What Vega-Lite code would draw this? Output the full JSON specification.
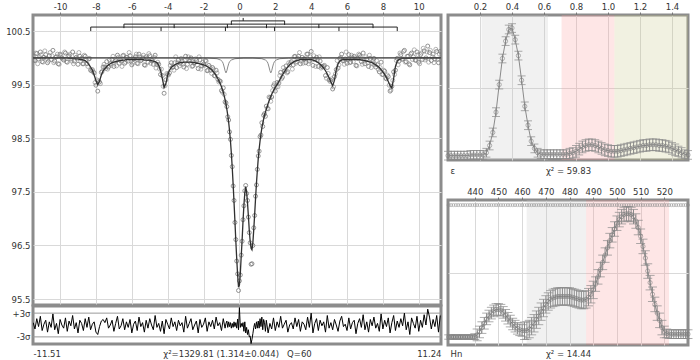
{
"$schema": "https://vega.github.io/schema/vega-lite/v6.json",
"padding": {"left": 4, "top": 0, "right": 0, "bottom": 0},
"background": "white",
"spacing": -1,
"config": {
  "locale": {"number": {"decimal": ".", "thousands": ",", "grouping": [3], "currency": ["$", ""], "minus": "-"}},
  "view": {"stroke": "#8c8c8c", "strokeWidth": 3},
  "axis": {"labelFont": "DejaVu Sans", "labelFontSize": 8.5, "labelColor": "#333", "titleFont": "DejaVu Sans", "titleFontSize": 8.5, "titleFontWeight": "normal", "titleColor": "#333", "gridColor": "#d9d9d9", "gridWidth": 1, "domain": false, "tickColor": "#777", "tickSize": 3}
},
"datasets": {
  "spec": [
{"x":-11.5,"y":100.03,"f":100,"r":0.6},{"x":-11.4,"y":99.95,"f":100,"r":-1},{"x":-11.3,"y":100.08,"f":100,"r":1.6},{"x":-11.2,"y":99.98,"f":100,"r":-0.4},{"x":-11.1,"y":100.11,"f":100,"r":2.2},{"x":-11.0,"y":99.93,"f":100,"r":-1.4},{"x":-10.9,"y":100.01,"f":100,"r":0.2},{"x":-10.8,"y":100.06,"f":100,"r":1.2},{"x":-10.7,"y":99.91,"f":100,"r":-1.8},{"x":-10.6,"y":100.04,"f":100,"r":0.8},
{"x":-10.5,"y":99.97,"f":100,"r":-0.6},{"x":-10.4,"y":100.14,"f":100,"r":2.8},{"x":-10.3,"y":99.94,"f":100,"r":-1.2},{"x":-10.2,"y":100.02,"f":100,"r":0.4},{"x":-10.1,"y":99.89,"f":100,"r":-2.2},{"x":-10.0,"y":100.07,"f":100,"r":1.4},{"x":-9.9,"y":100.0,"f":100,"r":0},{"x":-9.8,"y":99.96,"f":100,"r":-0.8},{"x":-9.7,"y":100.09,"f":100,"r":1.8},{"x":-9.6,"y":99.92,"f":100,"r":-1.6},
{"x":-9.5,"y":100.04,"f":99.99,"r":1},{"x":-9.4,"y":99.98,"f":99.99,"r":-0.2},{"x":-9.3,"y":100.11,"f":99.99,"r":2.4},{"x":-9.2,"y":99.94,"f":99.99,"r":-1},{"x":-9.1,"y":100.01,"f":99.98,"r":0.6},{"x":-9.0,"y":99.88,"f":99.98,"r":-2},{"x":-8.9,"y":100.03,"f":99.97,"r":1.2},{"x":-8.8,"y":99.99,"f":99.97,"r":0.4},{"x":-8.7,"y":99.89,"f":99.96,"r":-1.4},{"x":-8.6,"y":100.03,"f":99.95,"r":1.6},
{"x":-8.5,"y":99.89,"f":99.92,"r":-0.6},{"x":-8.4,"y":99.98,"f":99.88,"r":2},{"x":-8.3,"y":99.77,"f":99.83,"r":-1.2},{"x":-8.2,"y":99.78,"f":99.77,"r":0.2},{"x":-8.1,"y":99.72,"f":99.68,"r":0.8},{"x":-8.0,"y":99.49,"f":99.58,"r":-1.8},{"x":-7.9,"y":99.38,"f":99.5,"r":-2.4},{"x":-7.8,"y":99.55,"f":99.57,"r":-0.4},{"x":-7.7,"y":99.73,"f":99.68,"r":1},{"x":-7.6,"y":99.83,"f":99.76,"r":1.4},
{"x":-7.5,"y":99.83,"f":99.8,"r":0.6},{"x":-7.4,"y":99.93,"f":99.84,"r":1.8},{"x":-7.3,"y":99.83,"f":99.87,"r":-0.8},{"x":-7.2,"y":99.89,"f":99.89,"r":0},{"x":-7.1,"y":99.97,"f":99.91,"r":1.2},{"x":-7.0,"y":99.84,"f":99.92,"r":-1.6},{"x":-6.9,"y":99.95,"f":99.93,"r":0.4},{"x":-6.8,"y":100.05,"f":99.94,"r":2.2},{"x":-6.7,"y":99.9,"f":99.95,"r":-1},{"x":-6.6,"y":99.94,"f":99.95,"r":-0.2},
{"x":-6.5,"y":100.04,"f":99.96,"r":1.6},{"x":-6.4,"y":99.9,"f":99.96,"r":-1.2},{"x":-6.3,"y":100.01,"f":99.97,"r":0.8},{"x":-6.2,"y":99.94,"f":99.97,"r":-0.6},{"x":-6.1,"y":100.04,"f":99.97,"r":1.4},{"x":-6.0,"y":99.87,"f":99.97,"r":-2},{"x":-5.9,"y":99.98,"f":99.97,"r":0.2},{"x":-5.8,"y":100.02,"f":99.97,"r":1},{"x":-5.7,"y":99.9,"f":99.97,"r":-1.4},{"x":-5.6,"y":100.07,"f":99.97,"r":2},
{"x":-5.5,"y":99.95,"f":99.97,"r":-0.4},{"x":-5.4,"y":100.0,"f":99.97,"r":0.6},{"x":-5.3,"y":99.87,"f":99.96,"r":-1.8},{"x":-5.2,"y":100.02,"f":99.96,"r":1.2},{"x":-5.1,"y":99.92,"f":99.96,"r":-0.8},{"x":-5.0,"y":100.04,"f":99.96,"r":1.6},{"x":-4.9,"y":99.95,"f":99.95,"r":0},{"x":-4.8,"y":99.88,"f":99.94,"r":-1.2},{"x":-4.7,"y":100.05,"f":99.93,"r":2.4},{"x":-4.6,"y":99.88,"f":99.91,"r":-0.6},
{"x":-4.5,"y":99.88,"f":99.86,"r":0.4},{"x":-4.4,"y":99.69,"f":99.77,"r":-1.6},{"x":-4.3,"y":99.67,"f":99.62,"r":1},{"x":-4.2,"y":99.34,"f":99.45,"r":-2.2},{"x":-4.1,"y":99.59,"f":99.52,"r":1.4},{"x":-4.0,"y":99.69,"f":99.68,"r":0.2},{"x":-3.9,"y":99.72,"f":99.77,"r":-1},{"x":-3.8,"y":99.91,"f":99.82,"r":1.8},{"x":-3.7,"y":99.83,"f":99.85,"r":-0.4},{"x":-3.6,"y":99.91,"f":99.87,"r":0.8},
{"x":-3.5,"y":99.82,"f":99.89,"r":-1.4},{"x":-3.4,"y":99.96,"f":99.9,"r":1.2},{"x":-3.3,"y":99.9,"f":99.91,"r":-0.2},{"x":-3.2,"y":99.94,"f":99.91,"r":0.6},{"x":-3.1,"y":99.83,"f":99.92,"r":-1.8},{"x":-3.0,"y":100.03,"f":99.92,"r":2.2},{"x":-2.9,"y":99.88,"f":99.92,"r":-0.8},{"x":-2.8,"y":99.94,"f":99.92,"r":0.4},{"x":-2.7,"y":100.0,"f":99.92,"r":1.6},{"x":-2.6,"y":99.85,"f":99.91,"r":-1.2},
{"x":-2.5,"y":99.91,"f":99.91,"r":0},{"x":-2.4,"y":99.95,"f":99.9,"r":1},{"x":-2.3,"y":99.8,"f":99.9,"r":-2},{"x":-2.2,"y":99.96,"f":99.89,"r":1.4},{"x":-2.1,"y":99.85,"f":99.88,"r":-0.6},{"x":-2.0,"y":99.88,"f":99.87,"r":0.2},{"x":-1.9,"y":99.95,"f":99.86,"r":1.8},{"x":-1.8,"y":99.76,"f":99.84,"r":-1.6},{"x":-1.7,"y":99.86,"f":99.82,"r":0.8},{"x":-1.6,"y":99.77,"f":99.79,"r":-0.4},
{"x":-1.5,"y":99.82,"f":99.76,"r":1.2},{"x":-1.4,"y":99.67,"f":99.72,"r":-1},{"x":-1.3,"y":99.77,"f":99.67,"r":2},{"x":-1.2,"y":99.6,"f":99.61,"r":-0.2},{"x":-1.1,"y":99.57,"f":99.54,"r":0.6},{"x":-1.0,"y":99.39,"f":99.46,"r":-1.4},{"x":-0.9,"y":99.44,"f":99.36,"r":1.6},{"x":-0.8,"y":99.18,"f":99.22,"r":-0.8},{"x":-0.75,"y":99.16,"f":99.14,"r":0.4},{"x":-0.7,"y":99.09,"f":99.04,"r":1},
{"x":-0.65,"y":98.9,"f":98.93,"r":-0.6},{"x":-0.6,"y":98.84,"f":98.8,"r":0.8},{"x":-0.55,"y":98.62,"f":98.64,"r":-0.4},{"x":-0.5,"y":98.48,"f":98.45,"r":0.6},{"x":-0.45,"y":98.18,"f":98.22,"r":-0.8},{"x":-0.4,"y":97.97,"f":97.95,"r":0.4},{"x":-0.35,"y":97.61,"f":97.64,"r":-0.6},{"x":-0.3,"y":97.34,"f":97.3,"r":0.8},{"x":-0.25,"y":96.93,"f":96.95,"r":-0.4},{"x":-0.2,"y":96.61,"f":96.58,"r":0.6},
{"x":-0.15,"y":96.21,"f":96.25,"r":-0.8},{"x":-0.1,"y":95.97,"f":95.95,"r":1.5},{"x":-0.05,"y":95.66,"f":95.72,"r":-1.2},{"x":0.0,"y":95.84,"f":95.76,"r":4.4},{"x":0.05,"y":95.95,"f":95.98,"r":-0.6},{"x":0.1,"y":96.32,"f":96.3,"r":0.4},{"x":0.15,"y":96.58,"f":96.6,"r":-0.4},{"x":0.2,"y":96.98,"f":96.95,"r":0.6},{"x":0.25,"y":97.24,"f":97.25,"r":-1.6},{"x":0.3,"y":97.52,"f":97.48,"r":0.8},
{"x":0.35,"y":97.62,"f":97.6,"r":-2},{"x":0.4,"y":97.47,"f":97.5,"r":-0.6},{"x":0.45,"y":97.34,"f":97.3,"r":-2.4},{"x":0.5,"y":97.03,"f":97.05,"r":-1.2},{"x":0.55,"y":96.74,"f":96.78,"r":-3},{"x":0.6,"y":96.55,"f":96.58,"r":-2.8},{"x":0.65,"y":96.15,"f":96.45,"r":-4.7},{"x":0.7,"y":96.16,"f":96.42,"r":-3.6},{"x":0.75,"y":96.5,"f":96.55,"r":-2.2},{"x":0.8,"y":96.83,"f":96.8,"r":-0.6},
{"x":0.85,"y":97.06,"f":97.08,"r":0.4},{"x":0.9,"y":97.42,"f":97.38,"r":-1},{"x":0.95,"y":97.63,"f":97.66,"r":0.8},{"x":1.0,"y":97.92,"f":97.9,"r":-0.8},{"x":1.05,"y":98.17,"f":98.12,"r":1},{"x":1.1,"y":98.26,"f":98.3,"r":-0.8},{"x":1.15,"y":98.53,"f":98.45,"r":1.6},{"x":1.2,"y":98.56,"f":98.58,"r":-0.4},{"x":1.25,"y":98.79,"f":98.69,"r":2},{"x":1.3,"y":98.72,"f":98.78,"r":-1.2},
{"x":1.35,"y":98.93,"f":98.86,"r":1.4},{"x":1.4,"y":98.96,"f":98.93,"r":0.6},{"x":1.45,"y":98.91,"f":98.99,"r":-1.6},{"x":1.5,"y":99.1,"f":99.04,"r":1.2},{"x":1.6,"y":99.05,"f":99.15,"r":-2},{"x":1.7,"y":99.26,"f":99.24,"r":0.4},{"x":1.8,"y":99.27,"f":99.32,"r":-1},{"x":1.9,"y":99.48,"f":99.39,"r":1.8},{"x":2.0,"y":99.38,"f":99.45,"r":-1.4},{"x":2.1,"y":99.54,"f":99.5,"r":0.8},
{"x":2.2,"y":99.53,"f":99.56,"r":-0.6},{"x":2.3,"y":99.73,"f":99.62,"r":2.2},{"x":2.4,"y":99.64,"f":99.68,"r":-0.8},{"x":2.5,"y":99.75,"f":99.74,"r":0.2},{"x":2.6,"y":99.85,"f":99.79,"r":1.2},{"x":2.7,"y":99.74,"f":99.83,"r":-1.8},{"x":2.8,"y":99.87,"f":99.87,"r":0},{"x":2.9,"y":99.93,"f":99.9,"r":0.6},{"x":3.0,"y":99.87,"f":99.92,"r":-1},{"x":3.1,"y":100.03,"f":99.94,"r":1.8},
{"x":3.2,"y":99.93,"f":99.95,"r":-0.4},{"x":3.3,"y":100.03,"f":99.96,"r":1.4},{"x":3.4,"y":99.89,"f":99.97,"r":-1.6},{"x":3.5,"y":100.01,"f":99.97,"r":0.8},{"x":3.6,"y":99.98,"f":99.97,"r":0.2},{"x":3.7,"y":99.91,"f":99.97,"r":-1.2},{"x":3.8,"y":100.07,"f":99.97,"r":2},{"x":3.9,"y":99.94,"f":99.97,"r":-0.6},{"x":4.0,"y":100.12,"f":99.97,"r":3},{"x":4.1,"y":99.86,"f":99.96,"r":-2},
{"x":4.2,"y":99.97,"f":99.95,"r":0.4},{"x":4.3,"y":100.01,"f":99.93,"r":1.6},{"x":4.4,"y":99.84,"f":99.91,"r":-1.4},{"x":4.5,"y":99.94,"f":99.88,"r":1.2},{"x":4.6,"y":99.84,"f":99.85,"r":-0.2},{"x":4.7,"y":99.85,"f":99.81,"r":0.8},{"x":4.8,"y":99.67,"f":99.76,"r":-1.8},{"x":4.9,"y":99.82,"f":99.7,"r":2.4},{"x":5.0,"y":99.59,"f":99.63,"r":-0.8},{"x":5.1,"y":99.58,"f":99.55,"r":0.6},
{"x":5.2,"y":99.42,"f":99.48,"r":-1.2},{"x":5.3,"y":99.65,"f":99.58,"r":1.4},{"x":5.4,"y":99.78,"f":99.78,"r":0},{"x":5.5,"y":99.81,"f":99.89,"r":-1.6},{"x":5.6,"y":99.99,"f":99.94,"r":1},{"x":5.7,"y":100.07,"f":99.96,"r":2.2},{"x":5.8,"y":99.95,"f":99.97,"r":-0.4},{"x":5.9,"y":99.98,"f":99.97,"r":0.2},{"x":6.0,"y":99.9,"f":99.97,"r":-1.4},{"x":6.1,"y":100.06,"f":99.97,"r":1.8},
{"x":6.2,"y":99.92,"f":99.97,"r":-1},{"x":6.3,"y":100.0,"f":99.97,"r":0.6},{"x":6.4,"y":100.03,"f":99.97,"r":1.2},{"x":6.5,"y":99.86,"f":99.97,"r":-2.2},{"x":6.6,"y":99.99,"f":99.97,"r":0.4},{"x":6.7,"y":100.05,"f":99.97,"r":1.6},{"x":6.8,"y":99.93,"f":99.96,"r":-0.6},{"x":6.9,"y":100.09,"f":99.96,"r":2.6},{"x":7.0,"y":99.89,"f":99.95,"r":-1.2},{"x":7.1,"y":99.98,"f":99.94,"r":0.8},
{"x":7.2,"y":99.84,"f":99.93,"r":-1.8},{"x":7.3,"y":99.99,"f":99.92,"r":1.4},{"x":7.4,"y":99.9,"f":99.91,"r":-0.2},{"x":7.5,"y":99.99,"f":99.89,"r":2},{"x":7.6,"y":99.83,"f":99.87,"r":-0.8},{"x":7.7,"y":99.87,"f":99.85,"r":0.4},{"x":7.8,"y":99.74,"f":99.82,"r":-1.6},{"x":7.9,"y":99.92,"f":99.78,"r":2.8},{"x":8.0,"y":99.69,"f":99.74,"r":-1},{"x":8.1,"y":99.75,"f":99.69,"r":1.2},
{"x":8.2,"y":99.61,"f":99.63,"r":-0.4},{"x":8.3,"y":99.65,"f":99.56,"r":1.8},{"x":8.4,"y":99.38,"f":99.48,"r":-2},{"x":8.5,"y":99.47,"f":99.44,"r":0.6},{"x":8.6,"y":99.74,"f":99.62,"r":2.4},{"x":8.7,"y":99.77,"f":99.84,"r":-1.4},{"x":8.8,"y":99.99,"f":99.94,"r":1},{"x":8.9,"y":99.94,"f":99.97,"r":-0.6},{"x":9.0,"y":100.06,"f":99.98,"r":1.6},{"x":9.1,"y":99.98,"f":99.99,"r":-0.2},
{"x":9.2,"y":100.14,"f":99.99,"r":3},{"x":9.3,"y":99.93,"f":99.99,"r":-1.2},{"x":9.4,"y":100.03,"f":99.99,"r":0.8},{"x":9.5,"y":99.87,"f":99.99,"r":-2.4},{"x":9.6,"y":100.09,"f":100,"r":1.8},{"x":9.7,"y":100.02,"f":100,"r":0.4},{"x":9.8,"y":99.96,"f":100,"r":-0.8},{"x":9.9,"y":100.11,"f":100,"r":2.2},{"x":10.0,"y":99.92,"f":100,"r":-1.6},{"x":10.1,"y":100.06,"f":100,"r":1.2},
{"x":10.2,"y":99.97,"f":100,"r":-0.6},{"x":10.3,"y":100.13,"f":100,"r":2.6},{"x":10.4,"y":100.0,"f":100,"r":0},{"x":10.5,"y":100.22,"f":100,"r":4},{"x":10.6,"y":100.1,"f":100,"r":2},{"x":10.7,"y":99.95,"f":100,"r":-1},{"x":10.8,"y":100.07,"f":100,"r":1.4},{"x":10.9,"y":99.98,"f":100,"r":-0.4},{"x":11.0,"y":100.12,"f":100,"r":2.4},{"x":11.1,"y":99.91,"f":100,"r":-1.8},
{"x":11.2,"y":100.12,"f":100,"r":2.4}
  ],
  "pts2": [
{"x":-11.45,"y":99.96},{"x":-11.35,"y":100.09},{"x":-11.25,"y":99.89},{"x":-11.15,"y":100.02},{"x":-11.05,"y":100.06},{"x":-10.95,"y":99.92},{"x":-10.85,"y":100.13},{"x":-10.75,"y":99.99},{"x":-10.65,"y":99.94},{"x":-10.55,"y":100.1},
{"x":-10.45,"y":100.04},{"x":-10.35,"y":99.91},{"x":-10.25,"y":100.01},{"x":-10.15,"y":100.07},{"x":-10.05,"y":99.88},{"x":-9.95,"y":100.05},{"x":-9.85,"y":99.98},{"x":-9.75,"y":100.11},{"x":-9.65,"y":99.93},{"x":-9.55,"y":100.03},
{"x":-9.45,"y":100.07},{"x":-9.35,"y":99.94},{"x":-9.25,"y":99.89},{"x":-9.15,"y":100.05},{"x":-9.05,"y":99.98},{"x":-8.95,"y":100.1},{"x":-8.85,"y":99.94},{"x":-8.75,"y":99.89},{"x":-8.65,"y":100.05},{"x":-8.55,"y":99.96},
{"x":-8.45,"y":99.84},{"x":-8.35,"y":99.99},{"x":-8.25,"y":99.76},{"x":-8.15,"y":99.74},{"x":-8.05,"y":99.54},{"x":-7.95,"y":99.59},{"x":-7.85,"y":99.57},{"x":-7.75,"y":99.52},{"x":-7.65,"y":99.75},{"x":-7.55,"y":99.88},
{"x":-7.45,"y":99.8},{"x":-7.35,"y":99.79},{"x":-7.25,"y":99.96},{"x":-7.15,"y":99.86},{"x":-7.05,"y":100.03},{"x":-6.95,"y":99.93},{"x":-6.85,"y":99.85},{"x":-6.75,"y":100.01},{"x":-6.65,"y":99.97},{"x":-6.55,"y":99.84},
{"x":-6.45,"y":100.05},{"x":-6.35,"y":99.92},{"x":-6.25,"y":100.01},{"x":-6.15,"y":100.1},{"x":-6.05,"y":99.94},{"x":-5.95,"y":99.9},{"x":-5.85,"y":99.98},{"x":-5.75,"y":100.07},{"x":-5.65,"y":99.89},{"x":-5.55,"y":100.02},
{"x":-5.45,"y":99.96},{"x":-5.35,"y":100.05},{"x":-5.25,"y":99.86},{"x":-5.15,"y":99.99},{"x":-5.05,"y":100.08},{"x":-4.95,"y":99.9},{"x":-4.85,"y":99.95},{"x":-4.75,"y":100.01},{"x":-4.65,"y":99.81},{"x":-4.55,"y":99.92},
{"x":-4.45,"y":99.79},{"x":-4.35,"y":99.79},{"x":-4.25,"y":99.47},{"x":-4.15,"y":99.48},{"x":-4.05,"y":99.71},{"x":-3.95,"y":99.68},{"x":-3.85,"y":99.86},{"x":-3.75,"y":99.82},{"x":-3.65,"y":99.77},{"x":-3.55,"y":100.02},
{"x":-3.45,"y":99.91},{"x":-3.35,"y":99.85},{"x":-3.25,"y":99.99},{"x":-3.15,"y":99.88},{"x":-3.05,"y":99.95},{"x":-2.95,"y":99.8},{"x":-2.85,"y":100.02},{"x":-2.75,"y":99.97},{"x":-2.65,"y":99.84},{"x":-2.55,"y":99.91},
{"x":-2.45,"y":99.98},{"x":-2.35,"y":99.87},{"x":-2.25,"y":100.02},{"x":-2.15,"y":99.79},{"x":-2.05,"y":99.92},{"x":-1.95,"y":99.86},{"x":-1.85,"y":99.94},{"x":-1.75,"y":99.77},{"x":-1.65,"y":99.83},{"x":-1.55,"y":99.71},
{"x":-1.45,"y":99.79},{"x":-1.35,"y":99.66},{"x":-1.25,"y":99.72},{"x":-1.15,"y":99.55},{"x":-1.05,"y":99.56},{"x":-0.95,"y":99.36},{"x":-0.85,"y":99.32},
{"x":1.55,"y":99.06},{"x":1.65,"y":99.27},{"x":1.75,"y":99.19},{"x":1.85,"y":99.39},{"x":1.95,"y":99.52},{"x":2.05,"y":99.46},{"x":2.15,"y":99.46},{"x":2.25,"y":99.67},{"x":2.35,"y":99.61},{"x":2.45,"y":99.82},
{"x":2.55,"y":99.77},{"x":2.65,"y":99.72},{"x":2.75,"y":99.91},{"x":2.85,"y":99.91},{"x":2.95,"y":99.79},{"x":3.05,"y":100.02},{"x":3.15,"y":99.9},{"x":3.25,"y":99.99},{"x":3.35,"y":100.1},{"x":3.45,"y":99.94},
{"x":3.55,"y":99.9},{"x":3.65,"y":99.98},{"x":3.75,"y":100.07},{"x":3.85,"y":99.89},{"x":3.95,"y":100.02},{"x":4.05,"y":99.96},{"x":4.15,"y":100.04},{"x":4.25,"y":99.84},{"x":4.35,"y":99.95},{"x":4.45,"y":100.02},
{"x":4.55,"y":99.81},{"x":4.65,"y":99.83},{"x":4.75,"y":99.86},{"x":4.85,"y":99.62},{"x":4.95,"y":99.71},{"x":5.05,"y":99.56},{"x":5.15,"y":99.61},{"x":5.25,"y":99.46},{"x":5.35,"y":99.7},{"x":5.45,"y":99.95},
{"x":5.55,"y":99.87},{"x":5.65,"y":100.01},{"x":5.75,"y":99.95},{"x":5.85,"y":99.88},{"x":5.95,"y":100.11},{"x":6.05,"y":99.98},{"x":6.15,"y":99.91},{"x":6.25,"y":100.05},{"x":6.35,"y":99.93},{"x":6.45,"y":100.0},
{"x":6.55,"y":99.85},{"x":6.65,"y":100.07},{"x":6.75,"y":100.02},{"x":6.85,"y":99.88},{"x":6.95,"y":99.96},{"x":7.05,"y":100.02},{"x":7.15,"y":99.91},{"x":7.25,"y":100.05},{"x":7.35,"y":99.82},{"x":7.45,"y":99.94},
{"x":7.55,"y":99.87},{"x":7.65,"y":99.95},{"x":7.75,"y":99.78},{"x":7.85,"y":99.82},{"x":7.95,"y":99.69},{"x":8.05,"y":99.77},{"x":8.15,"y":99.62},{"x":8.25,"y":99.68},{"x":8.35,"y":99.49},{"x":8.45,"y":99.4},
{"x":8.55,"y":99.58},{"x":8.65,"y":99.69},{"x":8.75,"y":99.95},{"x":8.85,"y":99.87},{"x":8.95,"y":100.09},{"x":9.05,"y":99.97},{"x":9.15,"y":100.12},{"x":9.25,"y":99.92},{"x":9.35,"y":100.03},{"x":9.45,"y":99.89},
{"x":9.55,"y":100.07},{"x":9.65,"y":99.97},{"x":9.75,"y":100.15},{"x":9.85,"y":99.95},{"x":9.95,"y":100.06},{"x":10.05,"y":99.89},{"x":10.15,"y":100.09},{"x":10.25,"y":100.18},{"x":10.35,"y":99.96},{"x":10.45,"y":100.11},
{"x":10.55,"y":99.92},{"x":10.65,"y":100.14},{"x":10.75,"y":100.02},{"x":10.85,"y":99.91},{"x":10.95,"y":100.16},{"x":11.05,"y":99.97},{"x":11.15,"y":100.07}
  ],
  "comp": [
{"x":-11.51,"v":100},{"x":-1.75,"v":99.996},{"x":-1.25,"v":99.985},{"x":-1.05,"v":99.96},{"x":-0.95,"v":99.93},{"x":-0.9,"v":99.89},{"x":-0.85,"v":99.83},{"x":-0.8,"v":99.76},{"x":-0.75,"v":99.72},{"x":-0.7,"v":99.76},{"x":-0.65,"v":99.83},{"x":-0.6,"v":99.89},{"x":-0.55,"v":99.93},{"x":-0.45,"v":99.96},{"x":-0.25,"v":99.985},{"x":0.25,"v":99.996},{"x":0.75,"v":99.996},{"x":1.25,"v":99.985},{"x":1.45,"v":99.96},{"x":1.55,"v":99.93},{"x":1.6,"v":99.89},{"x":1.65,"v":99.83},{"x":1.7,"v":99.76},{"x":1.75,"v":99.72},{"x":1.8,"v":99.76},{"x":1.85,"v":99.83},{"x":1.9,"v":99.89},{"x":1.95,"v":99.93},{"x":2.05,"v":99.96},{"x":2.25,"v":99.985},{"x":2.75,"v":99.996},{"x":11.24,"v":100}
  ],
  "sticks": [
{"x":-0.45,"x2":2.52,"y":100.69,"y2":100.69},{"x":-0.45,"x2":-0.45,"y":100.69,"y2":100.615},{"x":2.52,"x2":2.52,"y":100.69,"y2":100.615},{"x":0.21,"x2":0.21,"y":100.69,"y2":100.745},
{"x":-6.44,"x2":7.45,"y":100.63,"y2":100.63},{"x":-6.44,"x2":-6.44,"y":100.63,"y2":100.555},{"x":-3.64,"x2":-3.64,"y":100.63,"y2":100.555},{"x":-0.67,"x2":-0.67,"y":100.63,"y2":100.555},{"x":1.51,"x2":1.51,"y":100.63,"y2":100.555},{"x":4.43,"x2":4.43,"y":100.63,"y2":100.555},{"x":7.45,"x2":7.45,"y":100.63,"y2":100.555},
{"x":-8.29,"x2":8.8,"y":100.575,"y2":100.575},{"x":-8.29,"x2":-8.29,"y":100.575,"y2":100.5},{"x":-4.37,"x2":-4.37,"y":100.575,"y2":100.5},{"x":-0.78,"x2":-0.78,"y":100.575,"y2":100.5},{"x":1.96,"x2":1.96,"y":100.575,"y2":100.5},{"x":5.55,"x2":5.55,"y":100.575,"y2":100.5},{"x":8.8,"x2":8.8,"y":100.575,"y2":100.5}
  ],
  "eps": [
{"x":0,"c":0.03,"e":0.03},{"x":0.02,"c":0.03,"e":0.03},{"x":0.04,"c":0.03,"e":0.03},{"x":0.06,"c":0.03,"e":0.03},{"x":0.08,"c":0.03,"e":0.03},{"x":0.1,"c":0.03,"e":0.03},{"x":0.12,"c":0.03,"e":0.03},{"x":0.14,"c":0.035,"e":0.03},{"x":0.16,"c":0.035,"e":0.03},{"x":0.18,"c":0.035,"e":0.03},{"x":0.2,"c":0.035,"e":0.03},{"x":0.22,"c":0.035,"e":0.03},
{"x":0.24,"c":0.05,"e":0.03},{"x":0.26,"c":0.1,"e":0.03},{"x":0.28,"c":0.19,"e":0.03},{"x":0.3,"c":0.33,"e":0.03},{"x":0.32,"c":0.52,"e":0.03},{"x":0.34,"c":0.7,"e":0.03},{"x":0.36,"c":0.82,"e":0.03},{"x":0.38,"c":0.9,"e":0.03},{"x":0.4,"c":0.91,"e":0.03},{"x":0.42,"c":0.83,"e":0.03},{"x":0.44,"c":0.72,"e":0.03},{"x":0.46,"c":0.55,"e":0.03},{"x":0.48,"c":0.37,"e":0.03},{"x":0.5,"c":0.24,"e":0.03},{"x":0.52,"c":0.13,"e":0.03},{"x":0.54,"c":0.08,"e":0.03},{"x":0.56,"c":0.05,"e":0.03},
{"x":0.58,"c":0.04,"e":0.03},{"x":0.6,"c":0.04,"e":0.03},{"x":0.62,"c":0.04,"e":0.03},{"x":0.64,"c":0.04,"e":0.03},{"x":0.66,"c":0.04,"e":0.03},{"x":0.68,"c":0.04,"e":0.03},{"x":0.7,"c":0.04,"e":0.03},{"x":0.72,"c":0.04,"e":0.03},{"x":0.74,"c":0.04,"e":0.03},{"x":0.76,"c":0.045,"e":0.035},{"x":0.78,"c":0.05,"e":0.035},{"x":0.8,"c":0.06,"e":0.04},{"x":0.82,"c":0.075,"e":0.04},{"x":0.84,"c":0.09,"e":0.04},{"x":0.86,"c":0.1,"e":0.04},{"x":0.88,"c":0.105,"e":0.04},{"x":0.9,"c":0.105,"e":0.04},{"x":0.92,"c":0.1,"e":0.04},{"x":0.94,"c":0.09,"e":0.04},{"x":0.96,"c":0.08,"e":0.04},{"x":0.98,"c":0.07,"e":0.04},{"x":1.0,"c":0.065,"e":0.04},
{"x":1.02,"c":0.06,"e":0.04},{"x":1.04,"c":0.06,"e":0.04},{"x":1.06,"c":0.06,"e":0.04},{"x":1.08,"c":0.065,"e":0.04},{"x":1.1,"c":0.07,"e":0.04},{"x":1.12,"c":0.075,"e":0.04},{"x":1.14,"c":0.08,"e":0.04},{"x":1.16,"c":0.085,"e":0.04},{"x":1.18,"c":0.09,"e":0.04},{"x":1.2,"c":0.095,"e":0.04},{"x":1.22,"c":0.1,"e":0.04},{"x":1.24,"c":0.1,"e":0.04},{"x":1.26,"c":0.105,"e":0.04},{"x":1.28,"c":0.105,"e":0.04},{"x":1.3,"c":0.105,"e":0.04},{"x":1.32,"c":0.1,"e":0.04},{"x":1.34,"c":0.1,"e":0.04},{"x":1.36,"c":0.095,"e":0.04},{"x":1.38,"c":0.09,"e":0.04},{"x":1.4,"c":0.08,"e":0.04},{"x":1.42,"c":0.07,"e":0.04},{"x":1.44,"c":0.06,"e":0.035},{"x":1.46,"c":0.05,"e":0.035},{"x":1.48,"c":0.04,"e":0.03},{"x":1.5,"c":0.035,"e":0.03}
  ],
  "epsreg": [{"a":0.21,"b":0.625,"k":"g"},{"a":0.71,"b":1.04,"k":"p"},{"a":1.04,"b":1.5,"k":"y"}],
  "hn": [
{"x":429,"c":0.055,"e":0.015},{"x":430,"c":0.055,"e":0.015},{"x":431,"c":0.055,"e":0.015},{"x":432,"c":0.055,"e":0.015},{"x":433,"c":0.055,"e":0.015},{"x":434,"c":0.055,"e":0.015},{"x":435,"c":0.055,"e":0.015},{"x":436,"c":0.055,"e":0.015},{"x":437,"c":0.055,"e":0.015},{"x":438,"c":0.055,"e":0.015},{"x":439,"c":0.055,"e":0.015},{"x":440,"c":0.058,"e":0.02},
{"x":441,"c":0.07,"e":0.04},{"x":442,"c":0.09,"e":0.04},{"x":443,"c":0.12,"e":0.04},{"x":444,"c":0.15,"e":0.04},{"x":445,"c":0.18,"e":0.04},{"x":446,"c":0.2,"e":0.04},{"x":447,"c":0.22,"e":0.04},{"x":448,"c":0.235,"e":0.04},{"x":449,"c":0.245,"e":0.04},{"x":450,"c":0.245,"e":0.04},{"x":451,"c":0.24,"e":0.04},{"x":452,"c":0.225,"e":0.04},{"x":453,"c":0.205,"e":0.04},{"x":454,"c":0.185,"e":0.04},{"x":455,"c":0.165,"e":0.04},{"x":456,"c":0.145,"e":0.04},{"x":457,"c":0.13,"e":0.04},{"x":458,"c":0.115,"e":0.04},{"x":459,"c":0.105,"e":0.04},{"x":460,"c":0.1,"e":0.04},
{"x":461,"c":0.098,"e":0.06},{"x":462,"c":0.1,"e":0.06},{"x":463,"c":0.11,"e":0.06},{"x":464,"c":0.13,"e":0.06},{"x":465,"c":0.15,"e":0.06},{"x":466,"c":0.175,"e":0.06},{"x":467,"c":0.2,"e":0.06},{"x":468,"c":0.23,"e":0.06},{"x":469,"c":0.255,"e":0.06},{"x":470,"c":0.28,"e":0.06},{"x":471,"c":0.3,"e":0.06},{"x":472,"c":0.315,"e":0.06},{"x":473,"c":0.325,"e":0.06},{"x":474,"c":0.33,"e":0.06},{"x":475,"c":0.335,"e":0.06},{"x":476,"c":0.335,"e":0.06},{"x":477,"c":0.335,"e":0.06},{"x":478,"c":0.335,"e":0.06},{"x":479,"c":0.335,"e":0.06},{"x":480,"c":0.335,"e":0.06},{"x":481,"c":0.33,"e":0.06},{"x":482,"c":0.325,"e":0.06},{"x":483,"c":0.32,"e":0.06},{"x":484,"c":0.315,"e":0.06},{"x":485,"c":0.31,"e":0.06},{"x":486,"c":0.31,"e":0.06},{"x":487,"c":0.315,"e":0.06},{"x":488,"c":0.33,"e":0.06},{"x":489,"c":0.35,"e":0.06},{"x":490,"c":0.38,"e":0.06},
{"x":491,"c":0.42,"e":0.05},{"x":492,"c":0.47,"e":0.05},{"x":493,"c":0.52,"e":0.05},{"x":494,"c":0.57,"e":0.05},{"x":495,"c":0.62,"e":0.05},{"x":496,"c":0.67,"e":0.05},{"x":497,"c":0.72,"e":0.05},{"x":498,"c":0.76,"e":0.05},{"x":499,"c":0.8,"e":0.05},{"x":500,"c":0.84,"e":0.05},{"x":501,"c":0.865,"e":0.05},{"x":502,"c":0.885,"e":0.05},{"x":503,"c":0.9,"e":0.05},{"x":504,"c":0.905,"e":0.05},{"x":505,"c":0.905,"e":0.05},{"x":506,"c":0.9,"e":0.05},{"x":507,"c":0.885,"e":0.05},{"x":508,"c":0.855,"e":0.05},{"x":509,"c":0.81,"e":0.05},{"x":510,"c":0.75,"e":0.05},{"x":511,"c":0.68,"e":0.05},{"x":512,"c":0.6,"e":0.05},{"x":513,"c":0.51,"e":0.05},{"x":514,"c":0.43,"e":0.05},{"x":515,"c":0.35,"e":0.05},{"x":516,"c":0.28,"e":0.05},{"x":517,"c":0.22,"e":0.05},{"x":518,"c":0.17,"e":0.05},{"x":519,"c":0.12,"e":0.05},{"x":520,"c":0.09,"e":0.04},
{"x":521,"c":0.08,"e":0.03},{"x":522,"c":0.075,"e":0.03},{"x":523,"c":0.075,"e":0.03},{"x":524,"c":0.075,"e":0.03},{"x":525,"c":0.075,"e":0.03},{"x":526,"c":0.075,"e":0.03},{"x":527,"c":0.075,"e":0.03},{"x":528,"c":0.075,"e":0.03},{"x":529,"c":0.075,"e":0.03},{"x":530,"c":0.075,"e":0.03}
  ],
  "hnreg": [{"a":461.9,"b":487,"k":"g"},{"a":487,"b":522,"k":"p"}]
},
"hconcat": [
  {
    "bounds": "flush",
    "spacing": 1,
    "vconcat": [
      {
        "width": 408, "height": 290,
        "layer": [
          {"data": {"name": "spec"}, "mark": {"type": "point", "filled": false, "size": 16, "strokeWidth": 0.8, "color": "#7a7a7a", "opacity": 1, "clip": true},
           "encoding": {
             "x": {"field": "x", "type": "quantitative", "scale": {"domain": [-11.51, 11.24], "nice": false, "zero": false},
                   "axis": {"orient": "top", "values": [-10,-8,-6,-4,-2,0,2,4,6,8,10], "grid": true, "ticks": true, "labelPadding": 1, "title": null}},
             "y": {"field": "y", "type": "quantitative", "scale": {"domain": [95.39, 100.8], "nice": false, "zero": false},
                   "axis": {"values": [95.5,96,96.5,97,97.5,98,98.5,99,99.5,100,100.5], "format": ".1f", "grid": true, "ticks": false, "labelPadding": 3, "title": null}}
           }},
          {"data": {"name": "pts2"}, "mark": {"type": "point", "filled": false, "size": 16, "strokeWidth": 0.8, "color": "#7a7a7a", "clip": true},
           "encoding": {"x": {"field": "x", "type": "quantitative"}, "y": {"field": "y", "type": "quantitative"}}},
          {"data": {"name": "spec"}, "mark": {"type": "line", "color": "#303030", "strokeWidth": 1.3, "clip": true},
           "encoding": {"x": {"field": "x", "type": "quantitative"}, "y": {"field": "f", "type": "quantitative"}}},
          {"data": {"name": "comp"}, "mark": {"type": "line", "color": "#8a8a8a", "strokeWidth": 1, "clip": true},
           "encoding": {"x": {"field": "x", "type": "quantitative"}, "y": {"field": "v", "type": "quantitative"}}},
          {"data": {"values": [{"b": 100}]}, "mark": {"type": "rule", "color": "#303030", "strokeWidth": 1},
           "encoding": {"y": {"field": "b", "type": "quantitative"}}},
          {"data": {"name": "sticks"}, "mark": {"type": "rule", "color": "#222", "strokeWidth": 1},
           "encoding": {"x": {"field": "x", "type": "quantitative"}, "x2": {"field": "x2"}, "y": {"field": "y", "type": "quantitative"}, "y2": {"field": "y2"}}}
        ]
      },
      {
        "width": 408, "height": 38,
        "layer": [
          {"data": {"values": [{"v": 3}, {"v": -3}]}, "mark": {"type": "rule", "color": "#999", "strokeWidth": 1},
           "encoding": {"y": {"field": "v", "type": "quantitative", "scale": {"domain": [-4.8, 4.8], "nice": false},
             "axis": {"values": [3, -3], "labelExpr": "datum.value > 0 ? '+3σ' : '-3σ'", "grid": false, "ticks": false, "title": null, "labelPadding": 3}}}},
          {"data": {"name": "spec"}, "mark": {"type": "line", "color": "#000", "strokeWidth": 1, "clip": true},
           "encoding": {
             "x": {"field": "x", "type": "quantitative", "scale": {"domain": [-11.51, 11.24], "nice": false, "zero": false},
                   "axis": {"orient": "bottom", "values": [-11.51, 11.24], "format": ".2f", "labelFlush": true, "grid": false, "ticks": false, "labelPadding": 5,
                            "title": "χ²=1329.81 (1.314±0.044)\u00a0\u00a0\u00a0Q=60", "titleY": 5, "titleBaseline": "top"}},
             "y": {"field": "r", "type": "quantitative"}
           }}
        ]
      }
    ]
  },
  {
    "bounds": "flush",
    "spacing": 40,
    "vconcat": [
      {
        "width": 240, "height": 145,
        "resolve": {"axis": {"x": "independent"}},
        "layer": [
          {"data": {"name": "epsreg"}, "mark": {"type": "rect", "opacity": 0.25},
           "encoding": {
             "x": {"field": "a", "type": "quantitative", "scale": {"domain": [0, 1.5], "nice": false, "zero": false},
                   "axis": {"orient": "top", "values": [0.2,0.4,0.6,0.8,1.0,1.2,1.4], "format": ".1f", "grid": true, "ticks": true, "labelPadding": 1, "title": null}},
             "x2": {"field": "b"},
             "color": {"field": "k", "type": "nominal", "scale": {"domain": ["g","p","y"], "range": ["#c8c8c8","#fa9a9a","#c7c787"]}, "legend": null}
           }},
          {"data": {"name": "eps"}, "mark": {"type": "errorbar", "color": "#8a8a8a", "thickness": 1, "ticks": {"size": 8, "color": "#8a8a8a"}},
           "encoding": {
             "x": {"field": "x", "type": "quantitative", "axis": null},
             "y": {"field": "c", "type": "quantitative", "scale": {"domain": [0, 1], "nice": false},
                   "axis": {"values": [0.5], "labels": false, "ticks": false, "grid": true, "title": "ε", "titleAngle": 0, "titleX": 2, "titleY": 151, "titleAlign": "left", "titleBaseline": "top"}},
             "yError": {"field": "e"}
           }},
          {"data": {"name": "eps"}, "mark": {"type": "line", "color": "#8a8a8a", "strokeWidth": 1},
           "encoding": {"x": {"field": "x", "type": "quantitative",
                   "axis": {"orient": "bottom", "labels": false, "ticks": false, "grid": false, "domain": false, "title": "χ² = 59.83", "titleY": 6, "titleBaseline": "top"}},
                        "y": {"field": "c", "type": "quantitative"}}},
          {"data": {"name": "eps"}, "mark": {"type": "point", "filled": false, "color": "#7a7a7a", "size": 18, "strokeWidth": 0.8},
           "encoding": {"x": {"field": "x", "type": "quantitative", "axis": null}, "y": {"field": "c", "type": "quantitative"}}}
        ]
      },
      {
        "width": 240, "height": 145,
        "resolve": {"axis": {"x": "independent"}},
        "layer": [
          {"data": {"name": "hnreg"}, "mark": {"type": "rect", "opacity": 0.25},
           "encoding": {
             "x": {"field": "a", "type": "quantitative", "scale": {"domain": [428.7, 530], "nice": false, "zero": false},
                   "axis": {"orient": "top", "values": [440,450,460,470,480,490,500,510,520], "grid": true, "ticks": true, "labelPadding": 1, "title": null}},
             "x2": {"field": "b"},
             "color": {"field": "k", "type": "nominal", "scale": {"domain": ["g","p","y"], "range": ["#c8c8c8","#fa9a9a","#c7c787"]}, "legend": null}
           }},
          {"data": {"name": "hn"}, "mark": {"type": "errorbar", "color": "#8a8a8a", "thickness": 1, "ticks": {"size": 9, "color": "#8a8a8a"}},
           "encoding": {
             "x": {"field": "x", "type": "quantitative", "axis": null},
             "y": {"field": "c", "type": "quantitative", "scale": {"domain": [0, 1], "nice": false},
                   "axis": {"values": [0.5], "labels": false, "ticks": false, "grid": true, "title": "Hn", "titleAngle": 0, "titleX": 2, "titleY": 149, "titleAlign": "left", "titleBaseline": "top"}},
             "yError": {"field": "e"}
           }},
          {"data": {"name": "hn"}, "mark": {"type": "line", "color": "#8a8a8a", "strokeWidth": 1},
           "encoding": {"x": {"field": "x", "type": "quantitative",
                   "axis": {"orient": "bottom", "labels": false, "ticks": false, "grid": false, "domain": false, "title": "χ² = 14.44", "titleY": 4, "titleBaseline": "top"}},
                        "y": {"field": "c", "type": "quantitative"}}},
          {"data": {"name": "hn"}, "mark": {"type": "point", "filled": false, "color": "#7a7a7a", "size": 18, "strokeWidth": 0.8},
           "encoding": {"x": {"field": "x", "type": "quantitative", "axis": null}, "y": {"field": "c", "type": "quantitative"}}},
          {"data": {"name": "hn"}, "mark": {"type": "point", "filled": false, "color": "#8a8a8a", "size": 10, "strokeWidth": 0.7},
           "encoding": {"x": {"field": "x", "type": "quantitative", "axis": null}, "y": {"datum": 0.965}}}
        ]
      }
    ]
  }
]
}
